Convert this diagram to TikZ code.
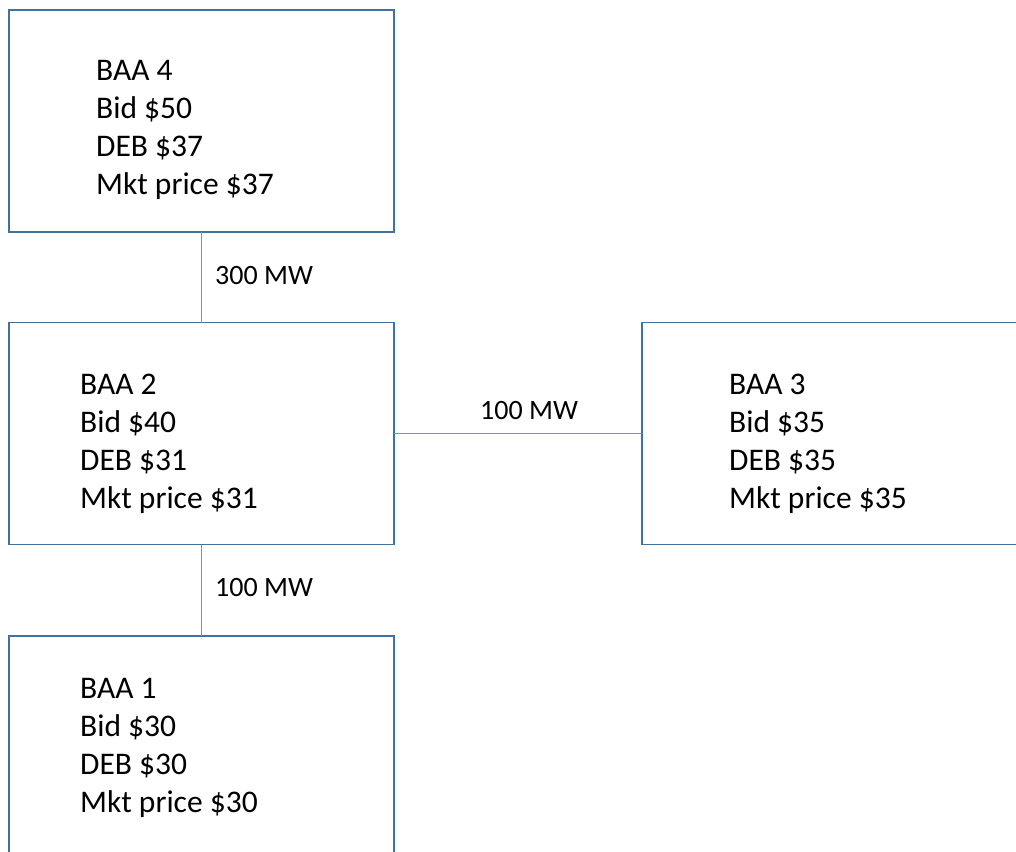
\documentclass[tikz,border=0pt]{standalone}
\usepackage{fontspec}
\setmainfont{Carlito}
\definecolor{boxblue}{HTML}{41719C}
\definecolor{lineblue}{HTML}{5B9BD5}
\begin{document}
\begin{tikzpicture}[x=1pt,y=-1pt,
  baabox/.style={draw=boxblue,line width=1.5pt,rectangle,minimum width=385pt,minimum height=222pt,inner sep=0pt,outer sep=0pt},
  baatext/.style={anchor=base west,inner sep=0pt,align=left,font=\fontsize{31.5}{38}\selectfont},
  conn/.style={draw=lineblue,line width=1pt},
  mw/.style={anchor=base west,inner sep=0pt,font=\fontsize{28}{34}\selectfont}]
\useasboundingbox (0,0) rectangle (1016,851);
\node[baabox] (b4) at (201.5,121) {};
\node[baabox] (b2) at (201.5,433.5) {};
\node[baabox] (b3) at (834.5,433.5) {};
\node[baabox] (b1) at (201.5,747) {};
\node[baatext] (t4) at (96,194) {BAA 4\\Bid \$50\\DEB \$37\\Mkt price \$37};
\node[baatext] (t2) at (80,508) {BAA 2\\Bid \$40\\DEB \$31\\Mkt price \$31};
\node[baatext] (t3) at (729,508) {BAA 3\\Bid \$35\\DEB \$35\\Mkt price \$35};
\node[baatext] (t1) at (80,812) {BAA 1\\Bid \$30\\DEB \$30\\Mkt price \$30};
\draw[conn] (b4.south) -- (b2.north);
\draw[conn] (b2.east) -- (b3.west);
\draw[conn] (b2.south) -- (b1.north);
\node[mw] (l1) at (215,284) {300 MW};
\node[mw] (l2) at (480,419) {100 MW};
\node[mw] (l3) at (215,596) {100 MW};
\end{tikzpicture}
\end{document}
